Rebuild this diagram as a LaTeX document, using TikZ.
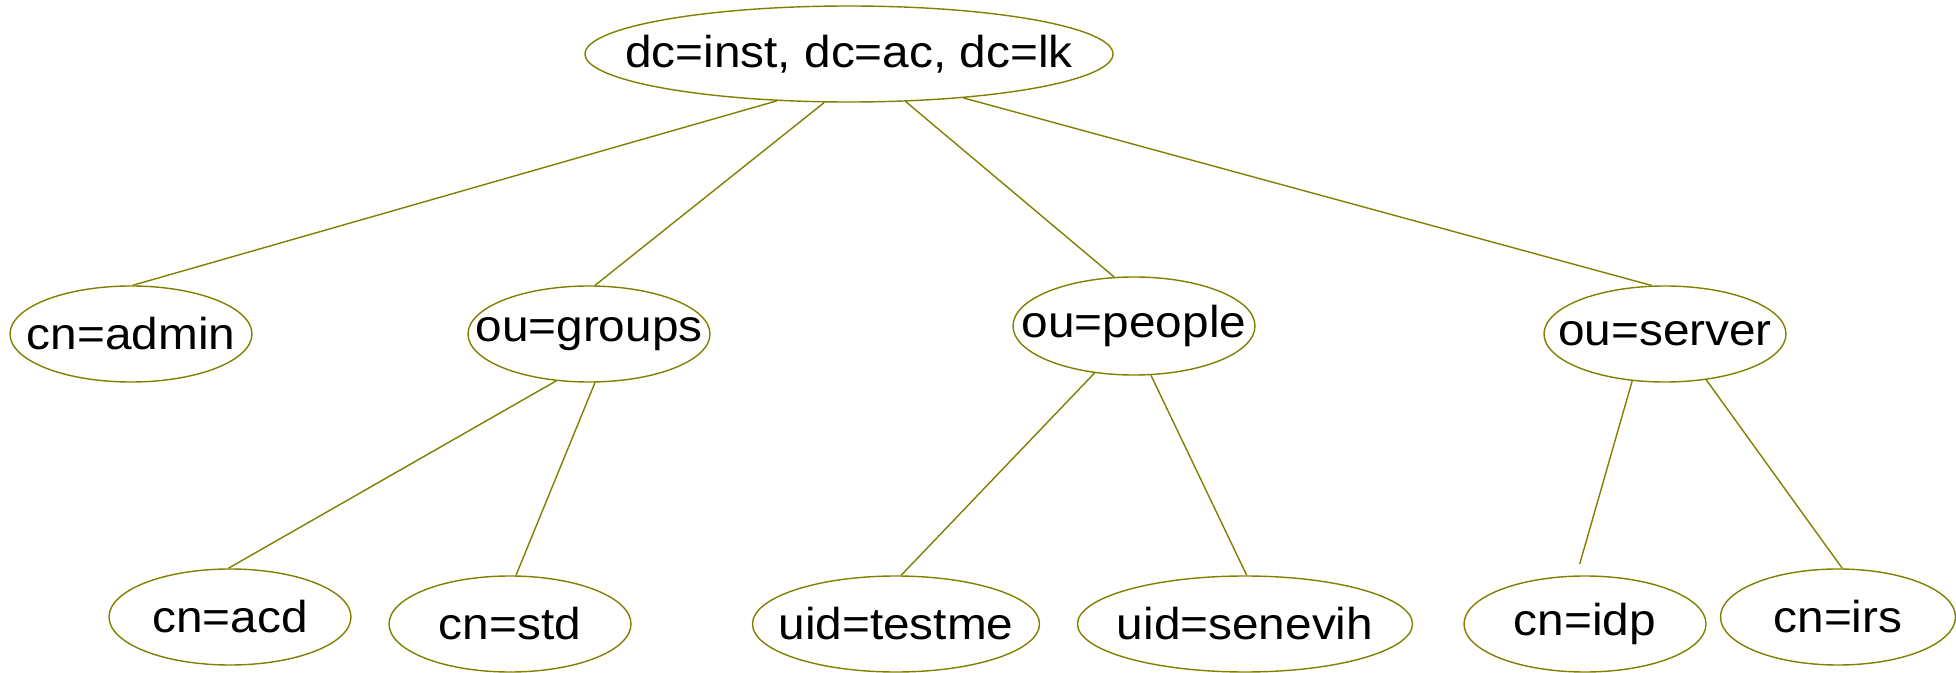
\documentclass[tikz,border=0pt]{standalone}
\usepackage{fontspec}
\setmainfont{Liberation Sans}[FakeStretch=1.07]
\usetikzlibrary{shapes.geometric}
\definecolor{ldapline}{HTML}{808000}

\begin{document}
\begin{tikzpicture}

      \useasboundingbox (0,0) rectangle (19.56,-6.73);

      \begin{scope}[every node/.style={ellipse,draw=ldapline,line width=0.4pt,inner xsep=-1cm,inner ysep=0pt,
          minimum width=2.42cm,minimum height=0.96cm,font=\fontsize{12.7}{15}\selectfont}]
        \node[minimum width=5.28cm] (root) at (8.49,-0.54) {dc=inst, dc=ac, dc=lk};
        \node (admin) at (1.31,-3.34) {cn=admin};
        \node (groups) at (5.89,-3.34) {ou=groups};
        \node[minimum height=0.98cm] (people) at (11.34,-3.26) {ou=people};
        \node (server) at (16.65,-3.34) {ou=server};
        \node (acd) at (2.30,-6.17) {cn=acd};
        \node (std) at (5.10,-6.24) {cn=std};
        \node[minimum width=2.87cm] (testme) at (8.96,-6.24) {uid=testme};
        \node[minimum width=3.35cm] (senevih) at (12.45,-6.24) {uid=senevih};
        \node (idp) at (15.85,-6.24) {cn=idp};
        \node[minimum width=2.35cm] (irs) at (18.38,-6.17) {cn=irs};
      \end{scope}

      \begin{scope}[every edge/.style={draw=ldapline,line width=0.4pt}]
        \path (root.213) edge (admin.88);
        \path (root.243) edge (groups.83);
        \path (root.320) edge (people.112);
        \path (root.339) edge (server.105);
        \path (groups.235) edge (acd.92);
        \path (groups.277) edge (std.83);
        \path (people.230) edge (testme.84);
        \path (people.289) edge (senevih.88);
        \path (server.235) edge[shorten >=1.2mm] (idp.100);
        \path (server.312) edge (irs.85);
      \end{scope}

    \end{tikzpicture}
\end{document}
